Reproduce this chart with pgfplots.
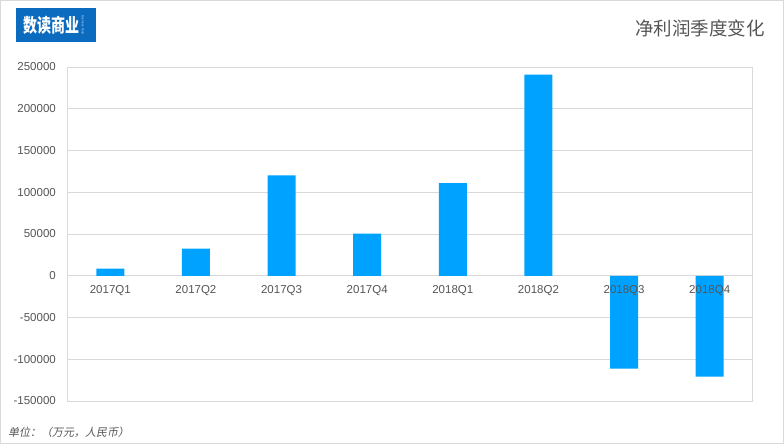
\documentclass[border=0pt]{standalone}
\usepackage{pgfplots}
\pgfplotsset{compat=1.18}
\usepackage{pgfplotstable}
\usepackage{fontspec}
\setmainfont{Liberation Sans}
\newfontfamily\cjk{Noto Sans CJK SC}
\newfontfamily\cjkslant[FakeSlant=0.2]{Noto Sans CJK SC}

\definecolor{barblue}{HTML}{00A2FF}
\definecolor{gridgray}{HTML}{D9D9D9}
\definecolor{txtgray}{HTML}{555555}
\definecolor{logoblue}{HTML}{0B6BBE}

% net profit per quarter (10k CNY)
\pgfplotstableread{
idx val
0 8400
1 32400
2 120300
3 50400
4 110800
5 240800
6 -111300
7 -120800
}\netprofit

\begin{document}
\begin{tikzpicture}
  \path[use as bounding box] (0pt,0pt) rectangle (784pt,-444pt);
  \draw[gridgray, line width=1pt] (0.5pt,-0.5pt) rectangle (783.5pt,-443.5pt);

  % logo
  \fill[logoblue] (16pt,-8pt) rectangle (96pt,-42pt);
  \node[anchor=west, inner sep=0pt, yscale=1.35, text=white, font=\cjk\bfseries\fontsize{14}{14}\selectfont]
    at (23pt,-25.5pt) {数读商业};
  \node[rotate=-90, inner sep=0pt, text=white!80!logoblue, font=\fontsize{3}{3}\selectfont]
    at (83pt,-25pt) {Business Data};

  % title and unit
  \node[anchor=east, inner sep=0pt, text=txtgray, font=\cjk\fontsize{18.5}{18.5}\selectfont]
    at (765pt,-28pt) {净利润季度变化};
  \node[anchor=west, inner sep=0pt, text=txtgray, font=\cjkslant\fontsize{11}{11}\selectfont]
    at (8pt,-432pt) {单位：（万元，人民币）};

  \begin{axis}[
    at={(67.5pt,-401pt)}, anchor=south west,
    scale only axis, width=685pt, height=334pt,
    xmin=-0.5, xmax=7.5, ymin=-150000, ymax=250000,
    ybar, bar width=28pt,
    xtick=\empty,
    minor xtick={0.5,1.5,2.5,3.5,4.5,5.5,6.5},
    ytick={-150000,-100000,-50000,0,50000,100000,150000,200000,250000},
    yticklabels={-150000,-100000,-50000,0,50000,100000,150000,200000,250000},
    scaled y ticks=false,
    xminorgrids, ymajorgrids,
    grid style={gridgray, line width=1pt},
    minor grid style={gridgray, line width=1pt},
    axis line style={gridgray, line width=1pt},
    major tick length=0pt, minor tick length=0pt,
    yticklabel style={font=\fontsize{11.5}{11.5}\selectfont, text=txtgray,
      anchor=east, inner sep=0pt, xshift=-11.5pt},
    clip=false,
  ]
    \addplot[fill=barblue, draw=none] table[x=idx, y=val] {\netprofit};

    \node[yshift=-14.7pt, text=txtgray, font=\fontsize{11.5}{11.5}\selectfont] at (axis cs:0,0) {2017Q1};
    \node[yshift=-14.7pt, text=txtgray, font=\fontsize{11.5}{11.5}\selectfont] at (axis cs:1,0) {2017Q2};
    \node[yshift=-14.7pt, text=txtgray, font=\fontsize{11.5}{11.5}\selectfont] at (axis cs:2,0) {2017Q3};
    \node[yshift=-14.7pt, text=txtgray, font=\fontsize{11.5}{11.5}\selectfont] at (axis cs:3,0) {2017Q4};
    \node[yshift=-14.7pt, text=txtgray, font=\fontsize{11.5}{11.5}\selectfont] at (axis cs:4,0) {2018Q1};
    \node[yshift=-14.7pt, text=txtgray, font=\fontsize{11.5}{11.5}\selectfont] at (axis cs:5,0) {2018Q2};
    \node[yshift=-14.7pt, text=txtgray, font=\fontsize{11.5}{11.5}\selectfont] at (axis cs:6,0) {2018Q3};
    \node[yshift=-14.7pt, text=txtgray, font=\fontsize{11.5}{11.5}\selectfont] at (axis cs:7,0) {2018Q4};
  \end{axis}
\end{tikzpicture}
\end{document}
